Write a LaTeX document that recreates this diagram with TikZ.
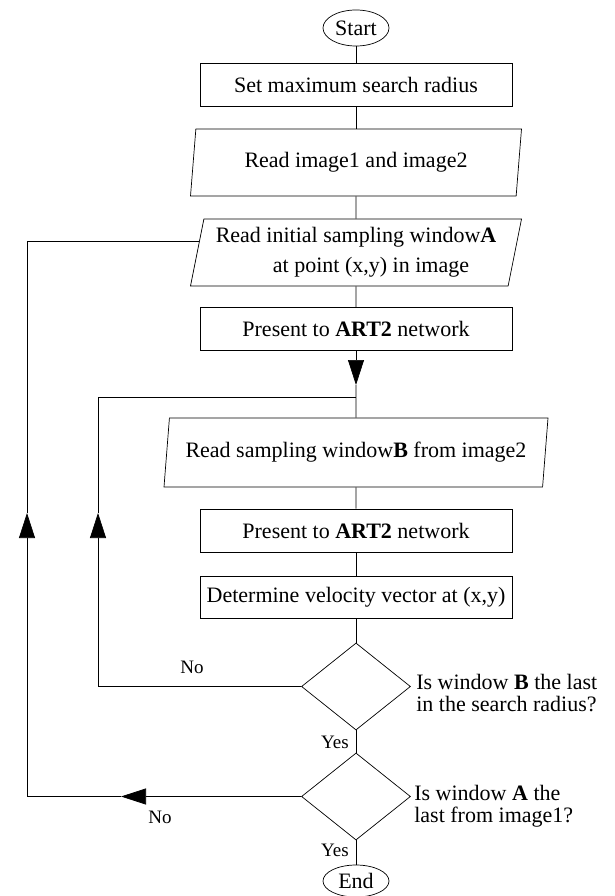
\documentclass[tikz,border=0pt]{standalone}
\usepackage{fontspec}
\setmainfont{Liberation Serif}
\usetikzlibrary{shapes.geometric,arrows.meta}
\begin{document}
\begin{tikzpicture}[x=1pt,y=-1pt,line width=0.7pt,
  font=\fontsize{22}{30}\selectfont,
  terminal/.style={draw,ellipse,minimum width=66pt,minimum height=36pt,inner sep=0pt,font=\fontsize{22}{26}\selectfont},
  process/.style={draw,rectangle,minimum width=312pt,minimum height=43pt,inner sep=0pt},
  io/.style={draw,trapezium,trapezium left angle=75,trapezium right angle=105,trapezium stretches body,minimum width=331pt,minimum height=67pt,inner sep=0pt},
  decision/.style={draw,diamond,minimum width=109pt,minimum height=87pt,inner sep=0pt},
  question/.style={anchor=west,align=left,inner sep=0pt,font=\fontsize{22}{22}\selectfont},
  answer/.style={inner sep=0pt,font=\fontsize{19}{22}\selectfont},
  flowtip/.style={-{Triangle[length=25pt,width=16pt]}}]

\useasboundingbox (0,0) rectangle (615,896);

\node[terminal] (start) at (356,28) {Start};
\node[process] (radius) at (356,84.5) {Set maximum search radius};
\node[io] (readimg) at (356,162.5) {Read image1 and image2};
\node[io,align=center] (readA) at (356,252.5) {Read initial sampling window\textbf{A}\\\hspace*{30pt}at point (x,y) in image};
\node[process] (presentA) at (356,329) {Present to \textbf{ART2} network};
\coordinate (tipdown) at (356,385);
\coordinate (merge) at (356,397);
\node[io,minimum width=384pt,minimum height=69pt] (readB) at (356,452.5) {Read sampling window\textbf{B} from image2};
\node[process] (presentB) at (356,530.5) {Present to \textbf{ART2} network};
\node[process,minimum height=42pt] (velocity) at (356,597) {Determine velocity vector at (x,y)};
\node[decision] (lastB) at (356,686.5) {};
\node[decision] (lastA) at (356,796.5) {};
\node[terminal,minimum height=32pt] (end) at (356,881) {End};

\coordinate (innertip) at (98,513);
\coordinate (outertip) at (27,513);
\coordinate (lefttip) at (121,796.5);

\draw (start) -- (radius);
\draw (radius) -- (readimg);
\draw (readimg) -- (readA);
\draw (readA) -- (presentA);
\draw[flowtip] (presentA) -- (tipdown);
\draw (tipdown) -- (readB);
\draw (readB) -- (presentB);
\draw (presentB) -- (velocity);
\draw (velocity) -- (lastB);
\draw (lastB) -- (lastA);
\draw (lastA) -- (end);

\draw[flowtip] (lastB.west) -| (innertip);
\draw (innertip) |- (merge);
\draw[flowtip] (lastA.west) -- (lefttip);
\draw[flowtip] (lefttip) -| (outertip);
\draw (outertip) |- (readA.176);

\node[answer] (noB) at (192,667) {No};
\node[answer] (yesB) at (335,742) {Yes};
\node[answer] (noA) at (160,817) {No};
\node[answer] (yesA) at (335,850) {Yes};
\node[question] (askB) at (416,693) {Is window \textbf{B} the last\\in the search radius?};
\node[question] (askA) at (414,806) {Is window \textbf{A} the\\last from image1?};

\end{tikzpicture}
\end{document}
